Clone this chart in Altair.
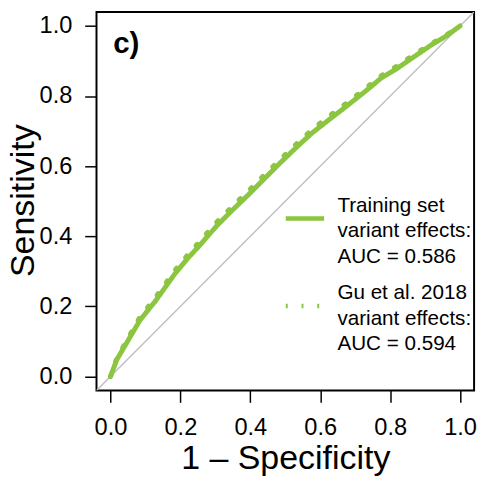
import altair as alt
import pandas as pd

# ---- data ----
fpr_train = [0.0, 0.018, 0.051, 0.084, 0.129, 0.182, 0.22, 0.257, 0.304, 0.346, 0.394, 0.44,
             0.483, 0.53, 0.577, 0.623, 0.675, 0.727, 0.774, 0.82, 0.868, 0.915, 0.961, 1.0]
tpr_train = [0.0, 0.048, 0.104, 0.16, 0.216, 0.29, 0.336, 0.376, 0.43, 0.472, 0.518, 0.564,
             0.607, 0.652, 0.695, 0.731, 0.771, 0.812, 0.851, 0.879, 0.912, 0.944, 0.972, 1.0]
fpr_gu = [0.0, 0.018, 0.051, 0.084, 0.129, 0.182, 0.22, 0.257, 0.304, 0.346, 0.394, 0.44,
          0.483, 0.53, 0.577, 0.623, 0.675, 0.727, 0.774, 0.82, 0.868, 0.915, 0.961, 1.0]
tpr_gu = [0.0, 0.052, 0.111, 0.169, 0.226, 0.3, 0.346, 0.387, 0.441, 0.483, 0.529, 0.575,
          0.617, 0.662, 0.705, 0.741, 0.78, 0.82, 0.858, 0.886, 0.918, 0.948, 0.975, 1.0]
diag = [-0.1, 1.1]
ticks = [0.0, 0.2, 0.4, 0.6, 0.8, 1.0]
series = ["Training set|variant effects:|AUC = 0.586",
          "Gu et al. 2018|variant effects:|AUC = 0.594"]
panel_label = ["c)"]

GREEN = "#8CC540"
GRAY = "#BEBEBE"
FONT = "Liberation Sans"

rows = []
for x, y in zip(fpr_train, tpr_train):
    rows.append({"x": x, "y": y, "series": series[0]})
for x, y in zip(fpr_gu, tpr_gu):
    rows.append({"x": x, "y": y, "series": series[1]})
df = pd.DataFrame(rows)
diag_df = pd.DataFrame({"x": diag, "y": diag})

xs = alt.Scale(domain=[-0.04, 1.04], nice=False, zero=False)
ys = alt.Scale(domain=[-0.04, 1.04], nice=False, zero=False)

diag_layer = alt.Chart(diag_df).mark_line(color=GRAY, strokeWidth=1.4, clip=True).encode(
    x=alt.X("x:Q", scale=xs,
            axis=alt.Axis(values=ticks, format=".1f", title="1 \u2013 Specificity",
                          labelPadding=14, titlePadding=2)),
    y=alt.Y("y:Q", scale=ys,
            axis=alt.Axis(values=ticks, format=".1f", title="Sensitivity",
                          labelPadding=13, titleX=-64, titleY=191.5,
                          titleBaseline="alphabetic", titleAngle=270)),
)

curves = alt.Chart(df).mark_line(color=GREEN, strokeWidth=5, strokeCap="round",
                                 strokeJoin="round").encode(
    x=alt.X("x:Q", scale=xs),
    y=alt.Y("y:Q", scale=ys),
    strokeDash=alt.StrokeDash(
        "series:N",
        scale=alt.Scale(domain=series, range=[[1, 0], [2, 14]]),
        legend=alt.Legend(title=None, orient="none", legendX=190, legendY=188,
                          symbolType="stroke", symbolSize=1521, symbolStrokeWidth=4.5,
                          symbolStrokeColor=GREEN, labelFontSize=21, labelFont=FONT,
                          labelColor="black", labelOffset=11, labelLimit=400,
                          labelBaseline="line-bottom",
                          labelExpr="split(datum.label, '|')", rowPadding=16, padding=0),
    ),
)

label = alt.Chart(pd.DataFrame({"t": panel_label})).mark_text(
    align="left", baseline="alphabetic", fontSize=30, fontWeight="bold", font=FONT, color="black"
).encode(x=alt.value(17), y=alt.value(42), text="t:N")

chart = alt.layer(diag_layer, curves, label).properties(
    width=384, height=385,
    autosize=alt.AutoSizeParams(type="none"),
    padding={"left": 90, "top": 0, "right": 5, "bottom": 87},
).configure(
    style={"guide-label": {"lineHeight": 26}}
).configure_view(
    stroke="black", strokeWidth=2
).configure_axis(
    domain=False, grid=False, tickColor="black", tickWidth=1.5, tickSize=12,
    labelFontSize=24, labelFont=FONT, labelColor="black", labelFlush=False,
    labelOverlap=False, titleFontSize=34.5, titleFont=FONT, titleFontWeight="normal",
    titleColor="black",
)

chart.save("out.html", embed_options={"renderer": "svg", "actions": False})
